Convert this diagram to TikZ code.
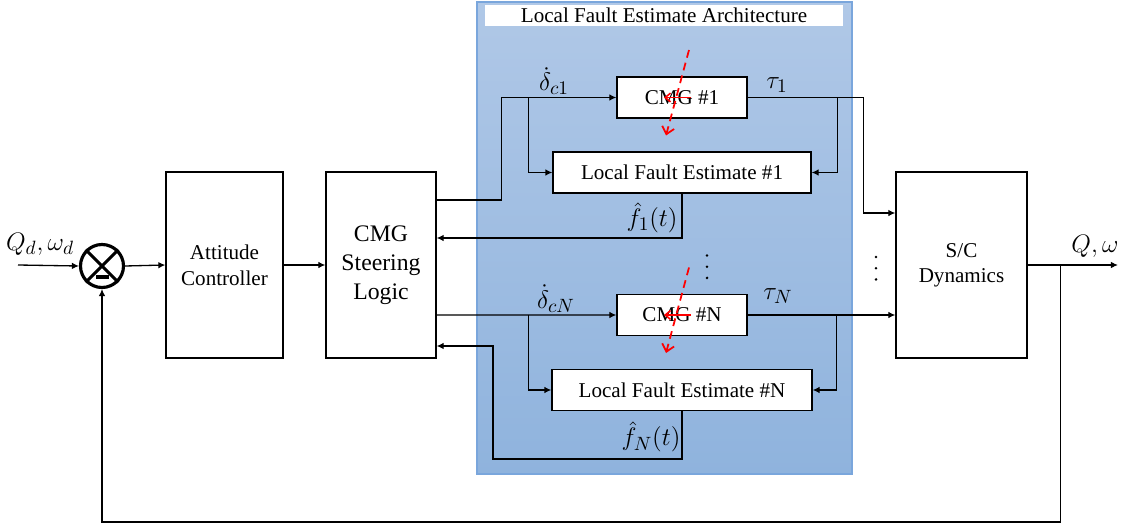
\documentclass[tikz,border=0pt]{standalone}
\usepackage{fontspec}
\setmainfont{Liberation Serif}
\usepackage{amsmath}
\usetikzlibrary{arrows.meta, calc, positioning}

\definecolor{archtop}{RGB}{176,200,231}
\definecolor{archbot}{RGB}{143,179,221}
\definecolor{archedge}{RGB}{122,166,220}

\begin{document}
\begin{tikzpicture}[
      x=0.02cm, y=-0.02cm,
      line width=0.75pt,
      blk/.style    ={rectangle, draw, fill=white, align=center, font=\fontsize{12}{14.7}\selectfont},
      tall/.style   ={blk, minimum height=3.72cm},
      wide/.style   ={blk, minimum height=0.82cm},
      sumc/.style   ={circle, draw, fill=white, line width=1.8pt, minimum size=0.86cm, inner sep=0pt},
      archbox/.style={rectangle, draw=archedge, line width=1pt, top color=archtop, bottom color=archbot,
                      minimum width=7.5cm, minimum height=9.44cm},
      lbl/.style    ={inner sep=0pt, font=\fontsize{15.5}{17}\selectfont},
      fault/.style  ={red, line width=1pt, dash pattern=on 4.5pt off 3pt, -{Straight Barb[length=4pt,width=7pt]}},
      spin/.style   ={red, line width=0.9pt, -{Straight Barb[length=3pt,width=5pt]}},
      >={Latex[length=4pt,width=3.8pt]}
    ]
    \useasboundingbox (0,0) rectangle (1123,527);

    % Architecture background
    \node[archbox] (arch) at (664.5,238) {};
    \node[fill=white, minimum width=7.16cm, minimum height=0.42cm, inner sep=0pt,
          font=\fontsize{12}{14}\selectfont] (ttl) at (664,15.5) {Local Fault Estimate Architecture};

    % Main loop blocks
    \node[sumc] (sum) at (102,266) {};
    \node[tall, minimum width=2.34cm] (att) at (224.5,265) {Attitude\\Controller};
    \node[tall, minimum width=2.2cm, font=\fontsize{13.5}{16.4}\selectfont] (csl) at (381,265) {CMG\\Steering\\Logic};
    \node[tall, minimum width=2.62cm, font=\fontsize{12}{14}\selectfont] (scd) at (961.5,265) {S/C\\Dynamics};

    % CMG and local fault estimate blocks
    \node[wide, minimum width=2.6cm]  (cmg1) at (682,97.5) {CMG \#1};
    \node[wide, minimum width=5.16cm] (lfe1) at (682,172.5) {Local Fault Estimate \#1};
    \node[wide, minimum width=2.6cm]  (cmgN) at (682,315) {CMG \#N};
    \node[wide, minimum width=5.2cm]  (lfeN) at (682,390) {Local Fault Estimate \#N};

    % Summing junction marks
    \draw[line width=1.8pt] (sum.north east) -- (sum.south west) (sum.north west) -- (sum.south east);
    \draw[line width=1.8pt] ([shift={(-6.5,11)}]sum.center) -- ++(13,0);

    % Reference and loop
    \coordinate (qin)  at (18,265);
    \coordinate (qout) at (1118,265);
    \draw[->] (qin) -- (sum.west);
    \draw[->] (sum.east) -- (att.west);
    \draw[->] (att) -- (csl);

    % Channel 1
    \draw[->] ([yshift=1.3cm]csl.east) -- ++(65,0) |- (cmg1.west);
    \draw[->] ([xshift=-1.76cm]cmg1.west) |- (lfe1.west);
    \draw[->] (cmg1.east) -- ++(116,0) |- ([yshift=1.04cm]scd.west);
    \draw[->] ([xshift=1.8cm]cmg1.east) |- (lfe1.east);
    \draw[->] (lfe1.south) |- ([yshift=0.54cm]csl.east);

    % Channel N
    \draw[->] ([yshift=-1cm]csl.east) -- (cmgN.west);
    \draw[->] ([xshift=-1.76cm]cmgN.west) |- (lfeN.west);
    \draw[->] (cmgN.east) -- (scd.west |- cmgN.east);
    \draw[->] ([xshift=1.78cm]cmgN.east) |- (lfeN.east);
    \draw[->] (lfeN.south) |- ++(-189,48) |- ([yshift=-1.62cm]csl.east);

    % Output and feedback
    \draw[->] (scd.east) -- (qout);
    \draw[->] ([xshift=0.66cm]scd.east) -- ++(0,257) -| (sum.south);

    % Fault marks
    \foreach \c in {cmg1, cmgN} {
      \draw[fault] ([shift={(7,-47.5)}]\c.center) -- ([shift={(-16,38)}]\c.center);
      \draw[spin]  ([shift={(9,0)}]\c.center) -- ([shift={(-18,0)}]\c.center);
    }

    % Dots
    \foreach \d in {0,1,2} {
      \fill (707,255.5+11.2*\d) circle (0.8pt);
      \fill (876,257+11.2*\d) circle (0.8pt);
    }

    % Labels
    \node[lbl] (ldc1) at (554,81)  {$\dot{\delta}_{c1}$};
    \node[lbl] (ltau1) at (777,85) {$\tau_1$};
    \node[lbl] (lf1)  at (652,218) {$\hat{f}_1(t)$};
    \node[lbl] (ldcN) at (556,299) {$\dot{\delta}_{cN}$};
    \node[lbl] (ltauN) at (778,296) {$\tau_N$};
    \node[lbl] (lfN)  at (651,437) {$\hat{f}_N(t)$};
    \node[lbl] (lqin) at (40,244)  {$Q_d,\omega_d$};
    \node[lbl] (lqout) at (1095,246) {$Q,\omega$};

  \end{tikzpicture}
\end{document}
